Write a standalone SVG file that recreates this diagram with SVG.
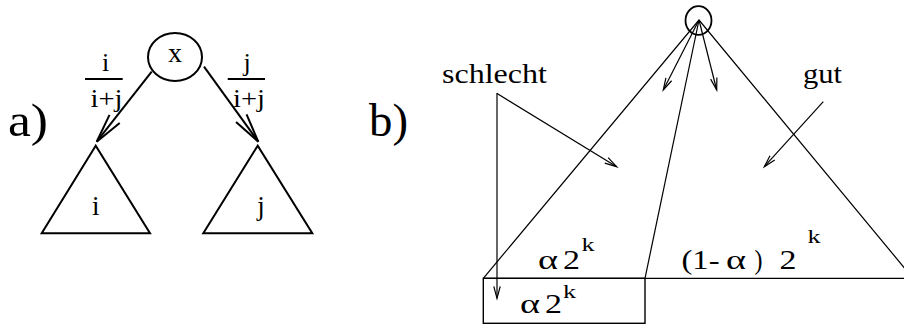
<svg xmlns="http://www.w3.org/2000/svg" width="904" height="326" viewBox="0 0 904 326">
<style>
text{font-family:"Liberation Serif","Times New Roman",serif;fill:#000}
.thick{stroke:#000;stroke-width:2;fill:none}
.thin{stroke:#000;stroke-width:1.2;fill:none}
.lbl{font-size:27px}
.bot{font-size:28px}
.frac{font-size:26px}
.big{font-size:47px}
.word{font-size:28px}
.sup{font-size:19px}
</style>
<defs>
<marker id="ahBig" markerUnits="userSpaceOnUse" orient="auto" refX="0" refY="0" markerWidth="1" markerHeight="1" overflow="visible">
<path d="M-29,-6.5 L0,0 L-29,6.5" fill="none" stroke="#000" stroke-width="2"/>
</marker>
<marker id="ahSmall" markerUnits="userSpaceOnUse" orient="auto" refX="0" refY="0" markerWidth="1" markerHeight="1" overflow="visible">
<path d="M-12,-3.2 L0,0 L-12,3.2" fill="none" stroke="#000" stroke-width="1.2"/>
</marker>
</defs>

<text class="big" x="8" y="136" textLength="40" lengthAdjust="spacingAndGlyphs">a)</text>
<text class="big" x="369" y="136" textLength="39" lengthAdjust="spacingAndGlyphs">b)</text>

<g id="nodeX">
<ellipse class="thick" cx="175" cy="57" rx="27" ry="24"/>
<text class="lbl" x="168" y="61.5" textLength="14" lengthAdjust="spacingAndGlyphs">x</text>
</g>
<g id="treeI">
<polygon class="thick" points="95.7,145.7 41.7,233.3 150,233.3"/>
<text class="lbl" x="95.7" y="215" text-anchor="middle">i</text>
</g>
<g id="treeJ">
<polygon class="thick" points="257.7,145.7 203.3,233.3 312.3,233.3"/>
<text class="lbl" x="261" y="215" text-anchor="middle">j</text>
</g>
<g id="fracLeft">
<text class="frac" x="105.5" y="71" text-anchor="middle">i</text>
<line class="thick" x1="85" y1="79" x2="122.7" y2="79" stroke-width="1.5"/>
<text class="frac" x="90.5" y="107" textLength="32" lengthAdjust="spacingAndGlyphs">i+j</text>
</g>
<g id="fracRight">
<text class="frac" x="247" y="71" text-anchor="middle">j</text>
<line class="thick" x1="227.7" y1="79" x2="265" y2="79" stroke-width="1.5"/>
<text class="frac" x="233" y="107" textLength="32" lengthAdjust="spacingAndGlyphs">i+j</text>
</g>

<g id="nodeRoot">
<ellipse cx="698.5" cy="20.5" rx="13" ry="14.3" fill="none" stroke="#000" stroke-width="1.8"/>
</g>
<g id="bigTree">
<polyline class="thin" points="483.3,278.3 699,20 913,278.3"/>
<line class="thin" x1="699" y1="20" x2="645" y2="278.3"/>
<line class="thin" x1="483.3" y1="278.3" x2="913" y2="278.3"/>
</g>
<g id="boxAlpha">
<rect x="483.3" y="278.3" width="161.7" height="45" fill="none" stroke="#000" stroke-width="1.4"/>
<text class="bot" x="520" y="313" textLength="20" lengthAdjust="spacingAndGlyphs">α</text>
<text class="bot" x="545" y="313" textLength="17" lengthAdjust="spacingAndGlyphs">2</text>
<text class="sup" x="563" y="298" textLength="13" lengthAdjust="spacingAndGlyphs">k</text>
</g>
<g id="labelAlphaTop">
<text class="bot" x="538" y="269" textLength="20" lengthAdjust="spacingAndGlyphs">α</text>
<text class="bot" x="563" y="269" textLength="17" lengthAdjust="spacingAndGlyphs">2</text>
<text class="sup" x="581.5" y="251" textLength="13" lengthAdjust="spacingAndGlyphs">k</text>
</g>
<g id="labelRest">
<text class="bot" x="681.5" y="269" textLength="38" lengthAdjust="spacingAndGlyphs">(1-</text>
<text class="bot" x="726" y="269" textLength="20" lengthAdjust="spacingAndGlyphs">α</text>
<text class="bot" x="754.5" y="269" textLength="8" lengthAdjust="spacingAndGlyphs">)</text>
<text class="bot" x="779.5" y="269" textLength="17" lengthAdjust="spacingAndGlyphs">2</text>
<text class="sup" x="807.5" y="243" textLength="13" lengthAdjust="spacingAndGlyphs">k</text>
</g>
<g id="labelSchlecht">
<text class="word" x="442" y="83" textLength="105" lengthAdjust="spacingAndGlyphs">schlecht</text>
</g>
<g id="labelGut">
<text class="word" x="803" y="83" textLength="39" lengthAdjust="spacingAndGlyphs">gut</text>
</g>

<g id="connectors">
<line class="thick" x1="151.7" y1="71.7" x2="96.7" y2="141.7" marker-end="url(#ahBig)"/>
<line class="thick" x1="204" y1="66.7" x2="258.3" y2="141.7" marker-end="url(#ahBig)"/>
<line class="thin" x1="699" y1="20" x2="663.3" y2="90" marker-end="url(#ahSmall)"/>
<line class="thin" x1="699" y1="20" x2="716.7" y2="90" marker-end="url(#ahSmall)"/>
<line class="thin" x1="496.7" y1="93.3" x2="616.7" y2="166.7" marker-end="url(#ahSmall)"/>
<line class="thin" x1="497" y1="93.3" x2="497" y2="298.3" marker-end="url(#ahSmall)"/>
<line class="thin" x1="823.3" y1="101.7" x2="764.3" y2="166.7" marker-end="url(#ahSmall)"/>
</g>
</svg>
